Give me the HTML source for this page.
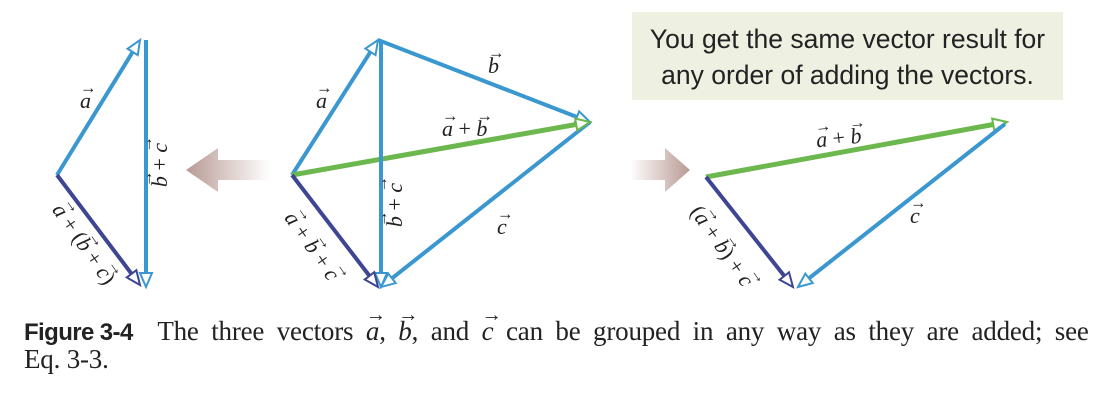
<!DOCTYPE html>
<html><head><meta charset="utf-8"><style>
body{margin:0;background:#fff;width:1114px;height:400px;overflow:hidden;position:relative}
svg{display:block;position:absolute;left:0;top:0}
.l{position:absolute;font-family:"Liberation Serif",serif;font-style:italic;font-size:22px;color:#222;white-space:nowrap;transform-origin:center center;line-height:1}
.v{position:relative;display:inline-block}
.v::after{content:"→";position:absolute;left:0;top:-0.62em;font-size:0.75em;font-style:normal}
.n{font-style:normal}
.boxt{position:absolute;left:632px;width:431px;text-align:center;font-family:"Liberation Sans",sans-serif;font-size:26.5px;color:#222;line-height:1}
.cap{position:absolute;left:24px;font-family:"Liberation Serif",serif;font-size:27px;color:#222;white-space:nowrap;line-height:1;letter-spacing:-0.2px;word-spacing:6px}
.fig{font-family:"Liberation Sans Narrow","Liberation Sans",sans-serif;font-weight:bold;letter-spacing:-0.6px;font-size:24px;word-spacing:0}
</style></head><body>
<svg id="fig" width="1114" height="400" viewBox="0 0 1114 400">
<defs>
<linearGradient id="gl" x1="0" x2="1"><stop offset="0" stop-color="#b89a94"/><stop offset="1" stop-color="#b89a94" stop-opacity="0"/></linearGradient>
<linearGradient id="gr" x1="0" x2="1"><stop offset="0" stop-color="#b89a94" stop-opacity="0"/><stop offset="1" stop-color="#b89a94"/></linearGradient>
</defs>
<rect x="632" y="12" width="431" height="88" fill="#eef0e2"/>
<polygon points="270,160 218,160 218,148 186,170 218,192 218,180 270,180" fill="url(#gl)"/>
<polygon points="630,160 665,160 665,148 690,170 665,192 665,180 630,180" fill="url(#gr)"/>
<g id="vecs"></g>
</svg>
<div class="boxt" style="top:26px">You get the same vector result for</div>
<div class="boxt" style="top:62px">any order of adding the vectors.</div>

<div class="l" style="left:80px;top:90px"><span class="v">a</span></div>
<div class="l" style="left:160px;top:165px;transform:translate(-50%,-50%) rotate(-90deg)"><span class="v">b</span><span class="n"> + </span><span class="v">c</span></div>
<div class="l" style="left:84px;top:244px;transform:translate(-50%,-50%) rotate(55deg)"><span class="v">a</span><span class="n"> + (</span><span class="v">b</span><span class="n"> + </span><span class="v">c</span><span class="n">)</span></div>

<div class="l" style="left:316px;top:90px"><span class="v">a</span></div>
<div class="l" style="left:488px;top:55px"><span class="v">b</span></div>
<div class="l" style="left:442px;top:118px"><span class="v">a</span><span class="n"> + </span><span class="v">b</span></div>
<div class="l" style="left:395px;top:205px;transform:translate(-50%,-50%) rotate(-90deg)"><span class="v">b</span><span class="n"> + </span><span class="v">c</span></div>
<div class="l" style="left:497px;top:216px"><span class="v">c</span></div>
<div class="l" style="left:312px;top:246px;transform:translate(-50%,-50%) rotate(55deg)"><span class="v">a</span><span class="n"> + </span><span class="v">b</span><span class="n"> + </span><span class="v">c</span></div>

<div class="l" style="left:816px;top:127px;transform:rotate(-6deg)"><span class="v">a</span><span class="n"> + </span><span class="v">b</span></div>
<div class="l" style="left:910px;top:205px"><span class="v">c</span></div>
<div class="l" style="left:722px;top:246px;transform:translate(-50%,-50%) rotate(55deg)"><span class="n">(</span><span class="v">a</span><span class="n"> + </span><span class="v">b</span><span class="n">) + </span><span class="v">c</span></div>

<div class="cap" style="top:318px"><span class="fig">Figure 3-4</span>&nbsp; The three vectors <i class="v">a</i>, <i class="v">b</i>, and <i class="v">c</i> can be grouped in any way as they are added; see</div>
<div class="cap" style="top:346px;word-spacing:0">Eq. 3-3.</div>
<script>
const vecNames=['a-left','bc-left','abc-left','a-mid','b-mid','c-mid','ab-mid','bc-mid','abc-mid','ab-right','c-right','abc-right'];
const vecX1=[57,146,57,292,378,590,292,381,292,706,1005,706];
const vecY1=[175,40,175,175,40,122,175,40,175,177,124,177];
const vecX2=[140,146,140,378,590,381,590,381,378,1007,798,793];
const vecY2=[40,287,285,40,122,287,122,287,287,122,287,287];
const vecColors=['#3a97d0','#3a97d0','#3e4592','#3a97d0','#3a97d0','#3a97d0','#6db84e','#3a97d0','#3e4592','#6db84e','#3a97d0','#3e4592'];
const NS='http://www.w3.org/2000/svg';
const g=document.getElementById('vecs');
for(let i=0;i<vecNames.length;i++){
  const x1=vecX1[i],y1=vecY1[i],x2=vecX2[i],y2=vecY2[i];
  const dx=x2-x1,dy=y2-y1,L=Math.hypot(dx,dy),ux=dx/L,uy=dy/L;
  const h=14,w=6;
  const l=document.createElementNS(NS,'line');
  
  
  l.setAttribute('x1',x1);l.setAttribute('y1',y1);
  l.setAttribute('x2',x2-ux*h);l.setAttribute('y2',y2-uy*h);
  l.setAttribute('stroke',vecColors[i]);l.setAttribute('stroke-width',vecColors[i]==='#6db84e'?5:4);
  g.appendChild(l);
  const bx=x2-ux*h,by=y2-uy*h;
  const p=document.createElementNS(NS,'polygon');
  
  
  p.setAttribute('points',`${x2},${y2} ${bx-uy*w},${by+ux*w} ${bx+uy*w},${by-ux*w}`);
  p.setAttribute('fill','#fff');p.setAttribute('stroke',vecColors[i]);p.setAttribute('stroke-width',2);
  g.appendChild(p);
}
</script>
</body></html>
